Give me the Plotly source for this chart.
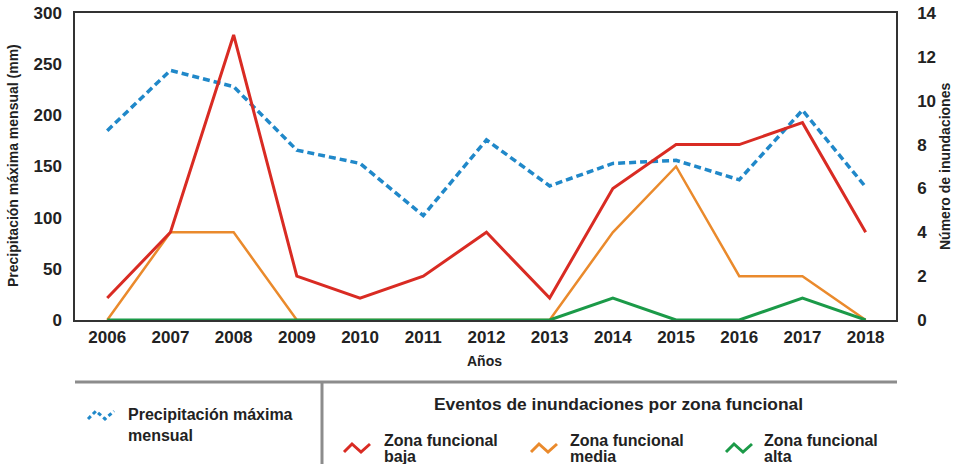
import plotly.graph_objects as go

years = [2006, 2007, 2008, 2009, 2010, 2011, 2012, 2013, 2014, 2015, 2016, 2017, 2018]
precip_mm = [185, 244, 228, 166, 153, 102, 176, 131, 153, 156, 137, 205, 130]
zona_baja = [1, 4, 13, 2, 1, 2, 4, 1, 6, 8, 8, 9, 4]
zona_media = [0, 4, 4, 0, 0, 0, 0, 0, 4, 7, 2, 2, 0]
zona_alta = [0, 0, 0, 0, 0, 0, 0, 0, 1, 0, 0, 1, 0]
left_ticks = [0, 50, 100, 150, 200, 250, 300]
right_ticks = [0, 2, 4, 6, 8, 10, 12, 14]

BLUE = "#2088c9"
RED = "#d92b23"
ORANGE = "#ea8a2c"
GREEN = "#1b9a48"
FONT = "Liberation Sans, Arial, sans-serif"

W, H = 957, 464
L, R, T, B = 75, 896, 13, 320
PW, PH = R - L, B - T


def px(x, y):
    return (x - L) / PW, (B - y) / PH


fig = go.Figure()
fig.add_trace(go.Scatter(x=years, y=zona_media, yaxis="y2", mode="lines",
                         line=dict(color=ORANGE, width=2.5), showlegend=False))
fig.add_trace(go.Scatter(x=years, y=zona_baja, yaxis="y2", mode="lines",
                         line=dict(color=RED, width=3), showlegend=False))
fig.add_trace(go.Scatter(x=years, y=zona_alta, yaxis="y2", mode="lines",
                         line=dict(color=GREEN, width=3), showlegend=False))
fig.add_trace(go.Scatter(x=years, y=precip_mm, yaxis="y", mode="lines",
                         line=dict(color=BLUE, width=3.5, dash="7px,4px"), showlegend=False))

shapes = []
annotations = []

# legend separators
x0, y0 = px(75, 382)
x1, _ = px(897, 382)
shapes.append(dict(type="line", xref="paper", yref="paper", x0=x0, x1=x1, y0=y0, y1=y0,
                   line=dict(color="#8c8c8c", width=3)))
xv, yv0 = px(322, 382)
_, yv1 = px(322, 466)
shapes.append(dict(type="line", xref="paper", yref="paper", x0=xv, x1=xv, y0=yv0, y1=yv1,
                   line=dict(color="#8c8c8c", width=3)))


def icon(xs, yc, color, dash="solid", width=3):
    pts = [(xs, yc + 4), (xs + 8, yc - 4), (xs + 17, yc + 4), (xs + 26, yc - 4)]
    path = ""
    for i, (a, b) in enumerate(pts):
        xx, yy = px(a, b)
        path += ("M" if i == 0 else " L") + f" {xx} {yy}"
    shapes.append(dict(type="path", xref="paper", yref="paper", path=path,
                       line=dict(color=color, width=width, dash=dash)))


def label(x, y, text, size=16, xanchor="left"):
    xx, yy = px(x, y)
    annotations.append(dict(xref="paper", yref="paper", x=xx, y=yy, text=text,
                            showarrow=False, xanchor=xanchor, yanchor="middle", align="left",
                            font=dict(family=FONT, size=size, color="#222")))


icon(88, 415, BLUE, dash="4px,3px", width=3)
label(126, 425, "<b>Precipitación máxima<br>mensual</b>")
label(618, 404, "<b>Eventos de inundaciones por zona funcional</b>", size=17.4, xanchor="center")
for ix, tx, col, word in [(344, 382, RED, "baja"), (531, 568, ORANGE, "media"), (726, 762, GREEN, "alta")]:
    icon(ix, 448, col)
    label(tx, 440, "<b>Zona funcional</b>")
    label(tx, 456, f"<b>{word}</b>")

# axis titles
label(484, 361, "<b>Años</b>", size=14, xanchor="center")
xx, yy = px(13, 166)
annotations.append(dict(xref="paper", yref="paper", x=xx, y=yy, text="<b>Precipitación máxima mensual (mm)</b>",
                        textangle=-90, showarrow=False, xanchor="center", yanchor="middle",
                        font=dict(family=FONT, size=14, color="#222")))
xx, yy = px(945, 166)
annotations.append(dict(xref="paper", yref="paper", x=xx, y=yy, text="<b>Número de inundaciones</b>",
                        textangle=-90, showarrow=False, xanchor="center", yanchor="middle",
                        font=dict(family=FONT, size=14, color="#222")))

fig.update_layout(
    width=W, height=H,
    margin=dict(l=L, r=W - R, t=T, b=H - B, pad=0, autoexpand=False),
    paper_bgcolor="white", plot_bgcolor="white",
    font=dict(family=FONT, color="#222"),
    shapes=shapes, annotations=annotations,
    xaxis=dict(range=[2005.49, 2018.48], tickmode="array", tickvals=years,
               ticktext=[f"<b>{y}</b>" for y in years], tickfont=dict(size=17),
               showgrid=False, zeroline=False, showline=True, linecolor="#333", linewidth=1.5,
               mirror=True, ticks="", ticklabelstandoff=1, automargin=False),
    yaxis=dict(range=[0, 300], tickmode="array", tickvals=left_ticks,
               ticktext=[f"<b>{v}</b>" for v in left_ticks], tickfont=dict(size=17),
               showgrid=False, zeroline=False, showline=True, linecolor="#333", linewidth=1.5,
               ticks="", ticklabelstandoff=8, automargin=False),
    yaxis2=dict(range=[0, 14], tickmode="array", tickvals=right_ticks,
                ticktext=[f"<b>{v}</b>" for v in right_ticks], tickfont=dict(size=17),
                overlaying="y", side="right",
                showgrid=False, zeroline=False, showline=True, linecolor="#333", linewidth=1.5,
                ticks="", ticklabelstandoff=16, automargin=False),
)

fig.write_html("out.html", config={"displayModeBar": False},
               post_script="document.body.style.margin='0';document.body.style.overflow='hidden';")
